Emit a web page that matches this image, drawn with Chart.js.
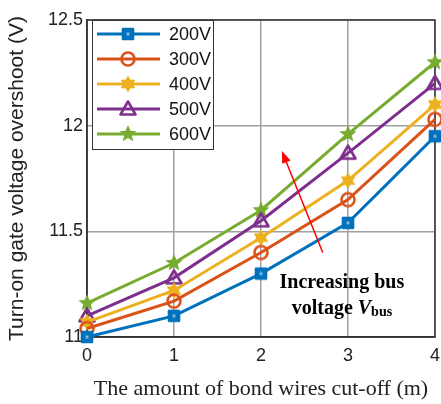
<!DOCTYPE html>
<html>
<head>
<meta charset="utf-8">
<script src="https://cdn.jsdelivr.net/npm/chart.js@4"></script>
<style>
  html, body { margin: 0; padding: 0; background: #fff; }
  #wrap { width: 441px; height: 404px; }
</style>
</head>
<body>
<div id="wrap"><canvas id="overshootChart"></canvas></div>
<script>
// bond wires cut-off (m)
const cutOff = [0, 1, 2, 3, 4];
const seriesNames = ['200V', '300V', '400V', '500V', '600V'];
const v200 = [11.00, 11.10, 11.30, 11.54, 11.95];
const v300 = [11.04, 11.17, 11.40, 11.65, 12.03];
const v400 = [11.07, 11.22, 11.47, 11.74, 12.10];
const v500 = [11.10, 11.28, 11.55, 11.87, 12.20];
const v600 = [11.16, 11.35, 11.60, 11.96, 12.30];
const yTicks = [11, 11.5, 12, 12.5];

const colors = ['#0072BD', '#D95319', '#EDB120', '#7E2F8E', '#77AC30'];
const shapes = ['square', 'circle', 'hexagram', 'triangle', 'pentagram'];

function starPath(ctx, cx, cy, n, ro, ri) {
  ctx.beginPath();
  for (let i = 0; i < n * 2; i++) {
    const r = i % 2 === 0 ? ro : ri;
    const a = -Math.PI / 2 + i * Math.PI / n;
    const x = cx + r * Math.cos(a), y = cy + r * Math.sin(a);
    if (i === 0) ctx.moveTo(x, y); else ctx.lineTo(x, y);
  }
  ctx.closePath();
}

function makeMarker(shape, color) {
  const s = 20;
  const c = document.createElement('canvas');
  c.width = s; c.height = s;
  const ctx = c.getContext('2d');
  const m = s / 2;
  ctx.strokeStyle = color;
  ctx.fillStyle = color;
  ctx.lineWidth = 2.6;
  ctx.lineJoin = 'round';
  if (shape === 'square') {
    ctx.strokeRect(m - 5, m - 5, 10, 10);
    ctx.fillRect(m - 5, m - 5, 10, 10);
    ctx.fillStyle = 'rgba(255,255,255,0.5)';
    ctx.fillRect(m - 1.5, m - 1.5, 3, 3);
  } else if (shape === 'circle') {
    ctx.beginPath();
    ctx.arc(m, m, 6.5, 0, Math.PI * 2);
    ctx.stroke();
  } else if (shape === 'hexagram') {
    starPath(ctx, m, m, 6, 8.5, 4.8);
    ctx.fill();
  } else if (shape === 'triangle') {
    ctx.beginPath();
    ctx.moveTo(m, m - 7.5);
    ctx.lineTo(m + 7.5, m + 5.5);
    ctx.lineTo(m - 7.5, m + 5.5);
    ctx.closePath();
    ctx.stroke();
  } else {
    starPath(ctx, m, m, 5, 9, 4);
    ctx.fill();
  }
  return c;
}

const markers = shapes.map((s, i) => makeMarker(s, colors[i]));
const allSeries = [v200, v300, v400, v500, v600];

// annotation placed in data coordinates
const arrowFrom = { x: 2.71, y: 11.40 };
const arrowTo = { x: 2.24, y: 11.88 };
const noteAt = { x: 2.93, y1: 11.255, y2: 11.135 };

const boxAndNotes = {
  id: 'boxAndNotes',
  beforeDatasetsDraw(chart) {
    const { ctx, chartArea: a } = chart;
    ctx.save();
    ctx.strokeStyle = '#333';
    ctx.lineWidth = 1.5;
    ctx.strokeRect(a.left, a.top, a.right - a.left, a.bottom - a.top);
    ctx.restore();
  },
  afterDatasetsDraw(chart) {
    const { ctx, scales } = chart;
    const xs = scales.x, ys = scales.y;
    ctx.save();
    // red arrow
    const x0 = xs.getPixelForValue(arrowFrom.x), y0 = ys.getPixelForValue(arrowFrom.y);
    const x1 = xs.getPixelForValue(arrowTo.x), y1 = ys.getPixelForValue(arrowTo.y);
    const ang = Math.atan2(y1 - y0, x1 - x0);
    ctx.strokeStyle = '#ff0000';
    ctx.fillStyle = '#ff0000';
    ctx.lineWidth = 1.5;
    ctx.beginPath();
    ctx.moveTo(x0, y0);
    ctx.lineTo(x1 - 8 * Math.cos(ang), y1 - 8 * Math.sin(ang));
    ctx.stroke();
    ctx.beginPath();
    ctx.moveTo(x1, y1);
    ctx.lineTo(x1 - 12 * Math.cos(ang) + 4.5 * Math.sin(ang), y1 - 12 * Math.sin(ang) - 4.5 * Math.cos(ang));
    ctx.lineTo(x1 - 12 * Math.cos(ang) - 4.5 * Math.sin(ang), y1 - 12 * Math.sin(ang) + 4.5 * Math.cos(ang));
    ctx.closePath();
    ctx.fill();

    // note text
    const cx = xs.getPixelForValue(noteAt.x);
    ctx.fillStyle = '#000';
    ctx.textBaseline = 'middle';
    ctx.textAlign = 'center';
    ctx.font = 'bold 20px "Liberation Serif", "Times New Roman", serif';
    ctx.fillText('Increasing bus', cx, ys.getPixelForValue(noteAt.y1));
    const ly = ys.getPixelForValue(noteAt.y2);
    const p1 = 'voltage ', p2 = 'V', p3 = 'bus';
    const f1 = 'bold 20px "Liberation Serif", serif';
    const f2 = 'bold italic 20px "Liberation Serif", serif';
    const f3 = 'bold 14px "Liberation Serif", serif';
    ctx.font = f1; const w1 = ctx.measureText(p1).width;
    ctx.font = f2; const w2 = ctx.measureText(p2).width;
    ctx.font = f3; const w3 = ctx.measureText(p3).width;
    let lx = cx - (w1 + w2 + w3) / 2;
    ctx.textAlign = 'left';
    ctx.font = f1; ctx.fillText(p1, lx, ly); lx += w1;
    ctx.font = f2; ctx.fillText(p2, lx, ly); lx += w2;
    ctx.font = f3; ctx.fillText(p3, lx, ly + 4);

    // legend box
    const a = chart.chartArea;
    const bx = a.left + 5, by = a.top, bw = 121, bh = 129;
    ctx.fillStyle = '#fff';
    ctx.fillRect(bx, by, bw, bh);
    ctx.strokeStyle = '#333';
    ctx.lineWidth = 1;
    ctx.strokeRect(bx + 0.5, by + 0.5, bw, bh);
    ctx.font = '18px "Liberation Sans", Arial, sans-serif';
    ctx.textBaseline = 'middle';
    chart.data.datasets.forEach((ds, i) => {
      const yy = by + 14 + i * 25;
      ctx.strokeStyle = ds.borderColor;
      ctx.lineWidth = 3;
      ctx.beginPath();
      ctx.moveTo(bx + 5, yy);
      ctx.lineTo(bx + 68, yy);
      ctx.stroke();
      ctx.drawImage(ds.pointStyle, bx + 36 - 10, yy - 10);
      ctx.fillStyle = '#111';
      ctx.fillText(ds.label, bx + 77, yy + 1);
    });
    ctx.restore();
  }
};

new Chart(document.getElementById('overshootChart').getContext('2d'), {
  type: 'line',
  data: {
    datasets: seriesNames.map((name, i) => ({
      label: name,
      data: cutOff.map((x, j) => ({ x: x, y: allSeries[i][j] })),
      borderColor: colors[i],
      backgroundColor: colors[i],
      borderWidth: 3,
      pointStyle: markers[i],
      pointRadius: 7,
      tension: 0,
      clip: false
    }))
  },
  options: {
    responsive: true,
    maintainAspectRatio: false,
    animation: false,
    layout: { autoPadding: false, padding: { top: 20, right: 6, left: 0, bottom: 0 } },
    plugins: {
      legend: { display: false },
      tooltip: { enabled: false }
    },
    scales: {
      x: {
        type: 'linear',
        min: 0,
        max: 4,
        afterFit: s => { s.height = 67; s.paddingLeft = 0; s.paddingRight = 0; },
        ticks: {
          stepSize: 1,
          padding: 8,
          color: '#222',
          font: { family: '"Liberation Sans", Arial, sans-serif', size: 18 }
        },
        grid: { color: '#a0a0a0', lineWidth: 1.5, drawTicks: false },
        border: { color: '#333', width: 1.5 },
        title: {
          display: true,
          text: 'The amount of bond wires cut-off (m)',
          color: '#222',
          padding: { top: 0, bottom: 2 },
          font: { family: '"Liberation Serif", "Times New Roman", serif', size: 22 }
        }
      },
      y: {
        min: 11,
        max: 12.5,
        afterFit: s => { s.width = 87; },
        afterBuildTicks: s => { s.ticks = yTicks.map(v => ({ value: v })); },
        ticks: {
          padding: 4,
          color: '#222',
          font: { family: '"Liberation Sans", Arial, sans-serif', size: 18 },
          callback: v => String(v)
        },
        grid: { color: '#a0a0a0', lineWidth: 1.5, drawTicks: false },
        border: { color: '#333', width: 1.5 },
        title: {
          display: true,
          text: 'Turn-on gate voltage overshoot (V)',
          color: '#222',
          padding: { top: 5, bottom: 0 },
          font: { family: '"Liberation Sans", Arial, sans-serif', size: 21 }
        }
      }
    }
  },
  plugins: [boxAndNotes]
});
</script>
</body>
</html>
